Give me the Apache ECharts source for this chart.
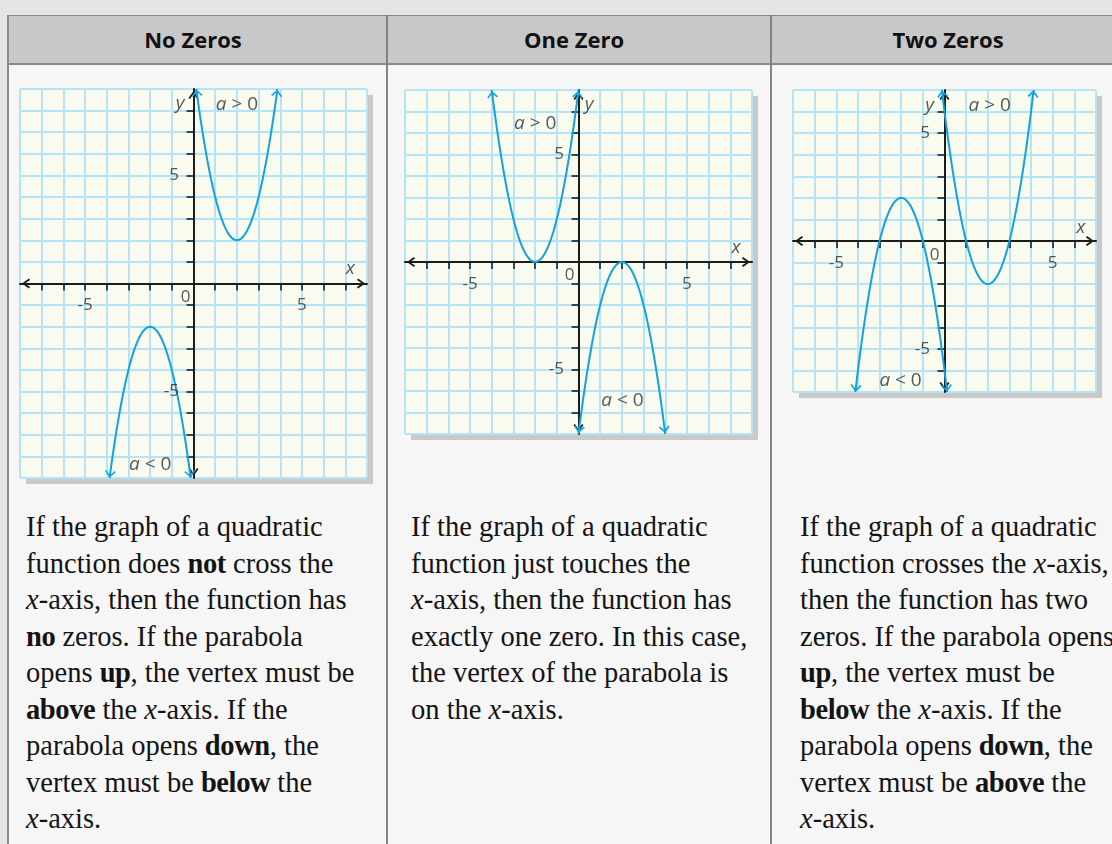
<!DOCTYPE html>
<html>
<head>
<meta charset="utf-8">
<title>Zeros of Quadratic Functions</title>
<script src="https://cdn.jsdelivr.net/npm/echarts@6/dist/echarts.min.js"></script>
<style>
  html, body { margin: 0; padding: 0; width: 1112px; height: 844px; overflow: hidden; background: #e4e4e4; }
  #sheet { position: absolute; left: 7px; top: 15px; width: 1200px; height: 900px; background: #f6f6f6;
           border-left: 2px solid #8a8a8a; border-top: 1px solid #8a8a8a; }
  #head { position: absolute; left: 9px; top: 16px; width: 1200px; height: 47px; background: #c8c8c8;
          border-bottom: 2px solid #8a8a8a; }
  .title { position: absolute; top: 16px; height: 47px; width: 300px; margin-left: -150px;
           text-align: center; font: bold 22px 'Open Sans', sans-serif; line-height: 47px; color: #111; }
  .sep { position: absolute; top: 15px; width: 2px; height: 840px; background: #828282; }
  .para { position: absolute; top: 509px; font: 28.5px 'Liberation Serif', serif; line-height: 36.5px;
          color: #141414; white-space: nowrap; }
  .para b { font-weight: bold; letter-spacing: -0.4px; }
  .para i { font-style: italic; }
  #chart { position: absolute; left: 0; top: 0; width: 1112px; height: 844px; pointer-events: none; }
</style>
</head>
<body>
<div id="sheet"></div>
<div id="head"></div>
<div class="sep" style="left:386px"></div>
<div class="sep" style="left:770px"></div>
<div id="titles"></div>

<div class="para" style="left:26px">
If the graph of a quadratic<br>
function does <b>not</b> cross the<br>
<i>x</i>-axis, then the function has<br>
<b>no</b> zeros. If the parabola<br>
opens <b>up</b>, the vertex must be<br>
<b>above</b> the <i>x</i>-axis. If the<br>
parabola opens <b>down</b>, the<br>
vertex must be <b>below</b> the<br>
<i>x</i>-axis.
</div>
<div class="para" style="left:411px">
If the graph of a quadratic<br>
function just touches the<br>
<i>x</i>-axis, then the function has<br>
exactly one zero. In this case,<br>
the vertex of the parabola is<br>
on the <i>x</i>-axis.
</div>
<div class="para" style="left:800px">
If the graph of a quadratic<br>
function crosses the <i>x</i>-axis,<br>
then the function has two<br>
zeros. If the parabola opens<br>
<b>up</b>, the vertex must be<br>
<b>below</b> the <i>x</i>-axis. If the<br>
parabola opens <b>down</b>, the<br>
vertex must be <b>above</b> the<br>
<i>x</i>-axis.
</div>

<div id="chart"></div>

<script>
// ---- data -------------------------------------------------------------
const panelTitles = ['No Zeros', 'One Zero', 'Two Zeros'];
// half-extent of each graph window (x from -xLimit..xLimit, y from -yLimit..yLimit)
const xLimit = [8, 8, 7];
const yLimit = [9, 8, 7];
// y = a (x - h)^2 + k ; first parabola opens up, second opens down
const coefA   = [[2, -2], [2, -2], [2, -2]];
const vertexH = [[2, -2], [-2, 2], [2, -2]];
const vertexK = [[2, -2], [0, 0], [-2, 2]];
const curveNames = ['a > 0', 'a < 0'];
const tickLabelValues = [-5, 5];

// ---- layout -----------------------------------------------------------
const titleCenters = [193, 574, 948];
const gridBoxes = [
  { left: 20,  top: 89, width: 347, height: 389 },
  { left: 405, top: 90, width: 347, height: 344 },
  { left: 793, top: 90, width: 303, height: 302 }
];
// where the annotations sit, in graph units
const notePlaces = [
  { up: [2.0, 8.3],   down: [-2.0, -8.4],  xName: [7.23, 0.67], yName: [-0.62, 8.33] },
  { up: [-2.0, 6.46], down: [2.03, -6.46], xName: [7.26, 0.69], yName: [0.49, 7.3] },
  { up: [2.09, 6.29], down: [-2.03, -6.48], xName: [6.3, 0.6],  yName: [-0.69, 6.29] }
];
const originOffset = [[-8, 14], [-9, 13], [-10, 14]];

const titleBox = document.getElementById('titles');
panelTitles.forEach((t, i) => {
  const d = document.createElement('div');
  d.className = 'title';
  d.style.left = titleCenters[i] + 'px';
  d.textContent = t;
  titleBox.appendChild(d);
});

// ---- styles -----------------------------------------------------------
const GRID_LINE = '#b5e3f8';
const AXIS_COLOR = '#1c1c1c';
const CURVE_COLOR = '#12a2df';
const TEXT_COLOR = '#2e2e2e';
const FONT = 'Open Sans';
// open chevrons pointing "up"; the library turns them along the line
const axisArrow = 'path://M0,0 L5,7 L3.6,8.2 L0,3 L-3.6,8.2 L-5,7 Z';
const AXIS_ARROW_SIZE = [10, 8.2];
const AXIS_ARROW_SHIFT = 6;          // pulls the tip just inside the window edge
const curveArrow = 'path://M0,0 L5.5,6 L4.3,7.1 L0,2.4 L-4.3,7.1 L-5.5,6 Z';
const CURVE_ARROW_SIZE = [11, 7.1];

// sample y = a(x-h)^2 + k across the part of the window it passes through
function parabolaPoints(a, h, k, yMax) {
  const edge = a > 0 ? yMax : -yMax;
  const half = Math.sqrt((edge - k) / a);
  const pts = [];
  const n = 600;
  for (let s = 0; s <= n; s++) {
    const x = h - half + (2 * half * s) / n;
    pts.push([x, a * (x - h) * (x - h) + k]);
  }
  return pts;
}

// short segment ending where an arrow head centred on it puts its tip on the curve's end
function arrowSegment(pts, atEnd, backUnits) {
  const seq = atEnd ? pts.slice().reverse() : pts;
  let acc = 0, k = 0;
  while (k < seq.length - 2 && acc < backUnits) {
    acc += Math.hypot(seq[k + 1][0] - seq[k][0], seq[k + 1][1] - seq[k][1]);
    k++;
  }
  return { coords: [seq[k + 1], seq[k]] };
}

function range(from, to) {
  const out = [];
  for (let v = from; v <= to; v++) out.push(v);
  return out;
}

const NOTE_SIZE = 19;
const TICK_SIZE = 17;
const rich = {
  it: { fontStyle: 'italic', fontSize: NOTE_SIZE, fontFamily: FONT, color: TEXT_COLOR },
  rm: { fontSize: NOTE_SIZE, fontFamily: FONT, color: TEXT_COLOR },
  tk: { fontSize: TICK_SIZE, fontFamily: FONT, color: TEXT_COLOR }
};
function textLabel(formatter, extra) {
  return Object.assign({ show: true, formatter: formatter, position: 'inside', rich: rich,
                         fontSize: TICK_SIZE, fontFamily: FONT, color: TEXT_COLOR }, extra || {});
}

const grid = [], xAxis = [], yAxis = [], series = [];

panelTitles.forEach((title, i) => {
  const X = xLimit[i], Y = yLimit[i];
  const pxPerUnit = gridBoxes[i].width / (2 * X);
  grid.push(Object.assign({
    show: true,
    containLabel: false,
    outerBoundsMode: 'none',
    backgroundColor: '#f8fbee',
    borderWidth: 0,
    shadowColor: '#c9c9c9',
    shadowBlur: 0,
    shadowOffsetX: 6,
    shadowOffsetY: 6
  }, gridBoxes[i]));

  // graph-paper lines
  xAxis.push({
    gridIndex: i, type: 'value', min: -X, max: X, interval: 1, position: 'top',
    axisLine: { show: false }, axisTick: { show: false }, axisLabel: { show: false },
    splitLine: { show: true, lineStyle: { color: GRID_LINE, width: 2 } }
  });
  yAxis.push({
    gridIndex: i, type: 'value', min: -Y, max: Y, interval: 1, position: 'right',
    axisLine: { show: false }, axisTick: { show: false }, axisLabel: { show: false },
    splitLine: { show: true, lineStyle: { color: GRID_LINE, width: 2 } }
  });
  // the coordinate axes through the origin
  const axisLine = {
    show: true, onZero: true,
    symbol: [axisArrow, axisArrow], symbolSize: AXIS_ARROW_SIZE,
    symbolOffset: [AXIS_ARROW_SHIFT, -AXIS_ARROW_SHIFT],
    lineStyle: { color: AXIS_COLOR, width: 2 }
  };
  xAxis.push({
    gridIndex: i, type: 'value', min: -X, max: X, interval: 1, position: 'bottom',
    axisLine: axisLine,
    axisTick: { show: true, length: 7, customValues: range(-X + 1, X - 1),
                lineStyle: { color: AXIS_COLOR, width: 1.6 } },
    axisLabel: { show: false },
    splitLine: { show: false }
  });
  yAxis.push({
    gridIndex: i, type: 'value', min: -Y, max: Y, interval: 1, position: 'left',
    axisLine: axisLine,
    axisTick: { show: true, length: 7, customValues: range(-Y + 1, Y - 1),
                lineStyle: { color: AXIS_COLOR, width: 1.6 } },
    axisLabel: { show: false },
    splitLine: { show: false }
  });

  const xi = 2 * i + 1, yi = 2 * i + 1;
  const heads = [];
  const back = CURVE_ARROW_SIZE[1] / 2 / pxPerUnit;
  coefA[i].forEach((a, j) => {
    const pts = parabolaPoints(a, vertexH[i][j], vertexK[i][j], Y);
    series.push({
      type: 'line', name: curveNames[j], xAxisIndex: xi, yAxisIndex: yi,
      data: pts, showSymbol: false, smooth: false, z: 5,
      lineStyle: { color: CURVE_COLOR, width: 2 },
      emphasis: { disabled: true }
    });
    heads.push(arrowSegment(pts, false, back));
    heads.push(arrowSegment(pts, true, back));
  });
  series.push({
    type: 'lines', coordinateSystem: 'cartesian2d', xAxisIndex: xi, yAxisIndex: yi,
    data: heads, symbol: ['none', curveArrow], symbolSize: [CURVE_ARROW_SIZE, CURVE_ARROW_SIZE],
    clip: false, z: 6,
    lineStyle: { color: CURVE_COLOR, width: 2, opacity: 1 },
    emphasis: { disabled: true }, silent: true
  });

  // tick numbers, axis names, curve notes
  const p = notePlaces[i];
  const items = [];
  tickLabelValues.forEach(v => {
    items.push({ value: [v, 0], label: textLabel('{tk|' + v + '}', { offset: [0, 22] }) });
    items.push({ value: [0, v], label: textLabel('{tk|' + v + '}', { position: 'left', distance: 14 }) });
  });
  items.push({ value: p.up,    label: textLabel('{it|a}{rm| > 0}') });
  items.push({ value: p.down,  label: textLabel('{it|a}{rm| < 0}') });
  items.push({ value: p.xName, label: textLabel('{it|x}') });
  items.push({ value: p.yName, label: textLabel('{it|y}') });
  items.push({ value: [0, 0],  label: textLabel('{tk|0}', { offset: originOffset[i] }) });
  series.push({
    type: 'scatter', xAxisIndex: xi, yAxisIndex: yi, z: 7, silent: true,
    symbolSize: 1, itemStyle: { color: 'rgba(0,0,0,0)' },
    label: textLabel(''),
    data: items
  });
});

const chart = echarts.init(document.getElementById('chart'), null, { renderer: 'canvas' });
chart.setOption({
  backgroundColor: 'transparent',
  animation: false,
  grid: grid,
  xAxis: xAxis,
  yAxis: yAxis,
  series: series
});
</script>
</body>
</html>
